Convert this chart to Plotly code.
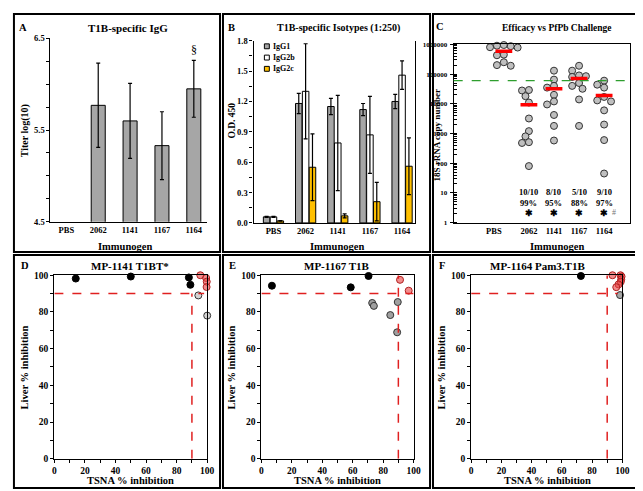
import numpy as np
import plotly.graph_objects as go

W, H = 643, 491
FONT = "Liberation Serif"

# ---------------- data ----------------
immunogens = ["PBS", "2062", "1141", "1167", "1164"]

# Panel A: T1B-specific IgG titer log10 (mean, error)
igg_titer = [None, 5.77, 5.60, 5.33, 5.95]
igg_titer_err = [None, 0.46, 0.41, 0.37, 0.31]

# Panel B: isotypes OD450 at 1:250
isotype_names = ["IgG1", "IgG2b", "IgG2c"]
igg1_od = [0.06, 1.18, 1.15, 1.12, 1.20]
igg1_err = [0.005, 0.10, 0.08, 0.06, 0.07]
igg2b_od = [0.06, 1.30, 0.79, 0.87, 1.46]
igg2b_err = [0.005, 0.47, 0.47, 0.38, 0.14]
igg2c_od = [0.02, 0.55, 0.07, 0.21, 0.56]
igg2c_err = [0.003, 0.33, 0.02, 0.19, 0.28]

# Panel C: 18S rRNA copy number per mouse
pbs_copies = [950000, 900000, 870000, 800000, 780000, 450000, 430000, 250000, 200000, 190000]
mp2062_copies = [29000, 28000, 18000, 11000, 3200, 1200, 800, 510, 480, 80]
mp1141_copies = [130000, 65000, 40000, 35000, 20000, 12000, 9500, 4200, 1800, 580]
mp1167_copies = [190000, 130000, 90000, 85000, 80000, 50000, 40000, 32000, 14000, 1800]
mp1164_copies = [60000, 44000, 35000, 17000, 13000, 12000, 6000, 2000, 600, 45]
protected = ["10/10", "8/10", "5/10", "9/10"]
efficacy = ["99%", "95%", "88%", "97%"]
threshold_copies = 60000

# Panels D-F: TSNA vs liver % inhibition
tsna_1141 = [14, 50, 88, 89, 95.5, 98.3, 99.3, 99.7, 99.6, 94.2, 100]
liver_1141 = [98.2, 99.3, 98.8, 94.8, 100, 100.2, 98.5, 96.5, 93.6, 89, 78]
tsna_1167 = [6.9, 58.7, 70.4, 91.1, 96.8, 72.8, 73.9, 84.7, 89.6, 89.2]
liver_1167 = [94.3, 93.4, 99.6, 97.5, 91.6, 84.9, 83.3, 78.3, 85.4, 68.9]
tsna_1164 = [72.6, 98.5, 93.5, 98.8, 99.5, 99.3, 99.0, 97.5, 96.0]
liver_1164 = [99.6, 89.2, 100, 100, 99.3, 97.8, 96.5, 95.0, 93.5]

# ---------------- helpers ----------------
def px(x):
    return x / W

def py(y):
    return 1 - y / H

fig = go.Figure()
idx = list(range(len(immunogens)))

# ---- Panel A
fig.add_trace(go.Bar(x=idx, y=igg_titer, width=0.44, xaxis="x", yaxis="y",
                     marker=dict(color="#A6A6A6", line=dict(color="black", width=1)),
                     error_y=dict(type="data", array=igg_titer_err, color="black", thickness=1.2, width=2),
                     showlegend=False))

# ---- Panel B
iso_colors = ["#A6A6A6", "#FFFFFF", "#FFC000"]
for name, vals, errs, col in zip(isotype_names, [igg1_od, igg2b_od, igg2c_od],
                                 [igg1_err, igg2b_err, igg2c_err], iso_colors):
    fig.add_trace(go.Bar(x=idx, y=vals, name=name, xaxis="x2", yaxis="y2", showlegend=False,
                         marker=dict(color=col, line=dict(color="black", width=1)),
                         error_y=dict(type="data", array=errs, color="black", thickness=1.2, width=2)))

# ---- Panel C (beeswarm)
groups_c = [pbs_copies, mp2062_copies, mp1141_copies, mp1167_copies, mp1164_copies]
x_range_c = [-2.0, 5.04]
px_per_unit = (629 - 450) / (x_range_c[1] - x_range_c[0])
px_per_dec = (214 - 32) / 6.0
diam = 7.0
for gi, vals in enumerate(groups_c):
    order = np.argsort(vals)[::-1]
    placed = []
    xs, ys = [], []
    for k in order:
        v = vals[k]
        ypx = np.log10(v) * px_per_dec
        cands = [0]
        for m in range(1, 12):
            cands += [-0.5 * m * diam, 0.5 * m * diam]
        for c in cands:
            if all((c - a) ** 2 + (ypx - b) ** 2 >= (0.9 * diam) ** 2 for a, b in placed):
                placed.append((c, ypx))
                xs.append(gi + c / px_per_unit)
                ys.append(v)
                break
    fig.add_trace(go.Scatter(x=xs, y=ys, mode="markers", xaxis="x3", yaxis="y3",
                             marker=dict(size=diam, color="#BFBFBF", line=dict(color="#333333", width=1)),
                             showlegend=False, cliponaxis=False))
means = [float(np.mean(v)) for v in groups_c]
fig.add_trace(go.Scatter(x=idx, y=means, mode="markers", xaxis="x3", yaxis="y3",
                         marker=dict(symbol="line-ew", size=12, line=dict(color="#FF0000", width=3.5)),
                         showlegend=False))

# ---- Panels D-F
def cat_color(t, l, gray):
    if l < 90:
        return gray, "#333333"
    if t >= 90:
        return "rgba(232,70,70,0.62)", "#B02020"
    return "#000000", "#000000"

for (tsna, liver, xa, ya, gray) in [(tsna_1141, liver_1141, "x4", "y4", "#D4D4D4"),
                                    (tsna_1167, liver_1167, "x5", "y5", "#A0A0A0"),
                                    (tsna_1164, liver_1164, "x6", "y6", "#A6A6A6")]:
    cols = [cat_color(t, l, gray) for t, l in zip(tsna, liver)]
    fig.add_trace(go.Scatter(x=tsna, y=liver, mode="markers", xaxis=xa, yaxis=ya,
                             marker=dict(size=7, color=[c[0] for c in cols],
                                         line=dict(color=[c[1] for c in cols], width=1)),
                             showlegend=False, cliponaxis=False))

# ---------------- axes ----------------
tick_font = dict(family=FONT, size=8.5, color="black", weight="bold")
tick_font2 = dict(family=FONT, size=9.5, color="black", weight="bold")
common = dict(showgrid=False, zeroline=False, showline=True, linecolor="black", linewidth=1.2,
              ticks="outside", tickcolor="black", ticklen=3, tickwidth=1)
common_nt = {k: v for k, v in common.items() if k != "ticks"}

layout = dict(
    xaxis=dict(domain=[px(41), px(200)], range=[-0.5, 4.42], tickvals=idx, ticktext=immunogens,
               ticks="", tickfont=tick_font, anchor="y", **common_nt),
    yaxis=dict(domain=[py(213), py(26)], range=[4.5, 6.5], tick0=4.5, dtick=1, tickformat=".1f",
               minor=dict(dtick=0.25, ticks="outside", ticklen=3, tickcolor="black"),
               tickfont=tick_font, anchor="x", **common),
    xaxis2=dict(domain=[px(247), px(411)], range=[-0.62, 4.41], tickvals=idx, ticktext=immunogens,
                ticks="", tickfont=tick_font, anchor="y2", **common_nt),
    yaxis2=dict(domain=[py(214.3), py(28.3)], range=[0, 1.8], dtick=0.3, tickformat=".1f", mirror=True,
                minor=dict(dtick=0.15, ticks="outside", ticklen=3, tickcolor="black"),
                tickfont=tick_font, anchor="x2", **common),
    xaxis3=dict(domain=[px(450), px(629)], range=x_range_c, tickvals=[-0.4, 1, 2, 3, 4], ticktext=immunogens,
                ticks="", tickfont=tick_font, anchor="y3", mirror=True, **common_nt),
    yaxis3=dict(domain=[py(214), py(32)], type="log", range=[0, 6],
                tickvals=[10 ** k for k in range(7)], ticktext=[str(10 ** k) for k in range(7)],
                ticklabelstandoff=1,
                minor=dict(ticks="inside", ticklen=3, tickcolor="black", dtick="D1"),
                tickfont=dict(family=FONT, size=7, color="black", weight="bold"), anchor="x3", mirror=True, **common),
    barmode="group", bargap=0.36, bargroupgap=0.05,
)
for n, (x0, x1) in zip([4, 5, 6], [(45, 200), (255, 409.3), (467.7, 621)]):
    layout[f"xaxis{n}"] = dict(domain=[px(x0), px(x1)], range=[0, 100], dtick=20,
                               minor=dict(dtick=10, ticks="outside", ticklen=3, tickcolor="black"),
                               tickfont=tick_font2, anchor=f"y{n}", mirror=True, **common)
    layout[f"yaxis{n}"] = dict(domain=[py(455), py(267.7)], range=[0, 100], dtick=20,
                               minor=dict(dtick=10, ticks="outside", ticklen=3, tickcolor="black"),
                               tickfont=tick_font2, anchor=f"x{n}", mirror=True, **common)

fig.update_layout(**layout)

# ---------------- shapes ----------------
shapes = []
for (x0, y0, x1, y1) in [(4, 1, 213, 244), (216, 1, 426, 244), (429, 1, 639, 244),
                         (4, 247, 213, 485), (216, 247, 426, 485), (429, 247, 639, 485)]:
    shapes.append(dict(type="rect", xref="paper", yref="paper", x0=px(x0), x1=px(x1), y0=py(y1), y1=py(y0),
                       line=dict(color="black", width=2)))
shapes.append(dict(type="line", xref="x3 domain", yref="y3", x0=0, x1=1, y0=threshold_copies, y1=threshold_copies,
                   line=dict(color="#2E9E2E", width=1.3, dash="dash")))
red = dict(color="#E02020", width=1.5, dash="dash")
for n, vtop, hright in [(4, 90, 98), (5, 100, 100), (6, 100, 97)]:
    shapes.append(dict(type="line", xref=f"x{n}", yref=f"y{n}", x0=90, x1=90, y0=0, y1=vtop, line=red))
    shapes.append(dict(type="line", xref=f"x{n}", yref=f"y{n}", x0=0, x1=hright, y0=90, y1=90, line=red))
# legend key for panel B
for i, col in enumerate(iso_colors):
    yc = 34 + 11.5 * i
    shapes.append(dict(type="rect", xref="paper", yref="paper", x0=px(258), x1=px(263),
                       y0=py(yc + 2.5), y1=py(yc - 2.5), fillcolor=col, line=dict(color="black", width=1)))
fig.update_layout(shapes=shapes)

# ---------------- annotations ----------------
ann = []
def text(x, y, s, size=10.5, angle=0, color="black", xref="paper", yref="paper", bold=True, xanchor="center"):
    ann.append(dict(x=x, y=y, xref=xref, yref=yref, text=s, showarrow=False, textangle=angle,
                    xanchor=xanchor, yanchor="middle",
                    font=dict(family=FONT, size=size, color=color, weight="bold" if bold else "normal")))

for i, name in enumerate(isotype_names):
    text(px(264.5), py(34 + 11.5 * i), name, size=8, xanchor="left")
# panel letters
for s, (x, y) in zip("ABCDEF", [(13, 15), (225, 15), (436, 14), (15, 258), (226, 258), (438, 258)]):
    text(px(x), py(y), s, size=10.5)
# titles
text(px(120), py(15), "T1B-specific IgG", size=11)
text(px(333), py(15), "T1B-specific Isotypes (1:250)", size=10)
text(px(555), py(15), "Efficacy vs PfPb Challenge", size=9.5)
text(px(122), py(258), "MP-1141 T1BT*", size=11)
text(px(332), py(258), "MP-1167 T1B", size=11)
text(px(535), py(258), "MP-1164 Pam3.T1B", size=11)
# axis titles
text(px(15), py(120), "Titer log(10)", size=10, angle=-90)
text(px(225), py(110), "O.D. 450", size=9.5, angle=-90)
text(px(434), py(125), "18S rRNA copy number", size=9, angle=-90)
for x in [117, 332, 555]:
    text(px(x), py(238), "Immunogen", size=10.5)
for x, yx in [(15, 122), (225, 332), (438, 545)]:
    text(px(x), py(362), "Liver % inhibition", size=10.5, angle=-90)
    text(px(yx), py(477), "TSNA % inhibition", size=10.5)
# section mark above 1164 titer
text(4, igg_titer[4] + igg_titer_err[4] + 0.11, "§", size=12, xref="x", yref="y", color="#000000", bold=False)
# panel C protection summary
for i, (p, e) in enumerate(zip(protected, efficacy)):
    text(i + 1, py(183), p, size=8.5, xref="x3")
    text(i + 1, py(194), e, size=8.5, xref="x3")
    text(i + 1, py(204), "✱", size=9, xref="x3")
text(4.38, py(204), "#", size=8, xref="x3", color="#777777", bold=False)
fig.update_layout(annotations=ann)

fig.update_layout(
    width=W, height=H, margin=dict(l=0, r=0, t=0, b=0),
    paper_bgcolor="white", plot_bgcolor="white", showlegend=False,
)

fig.write_html("out.html")
